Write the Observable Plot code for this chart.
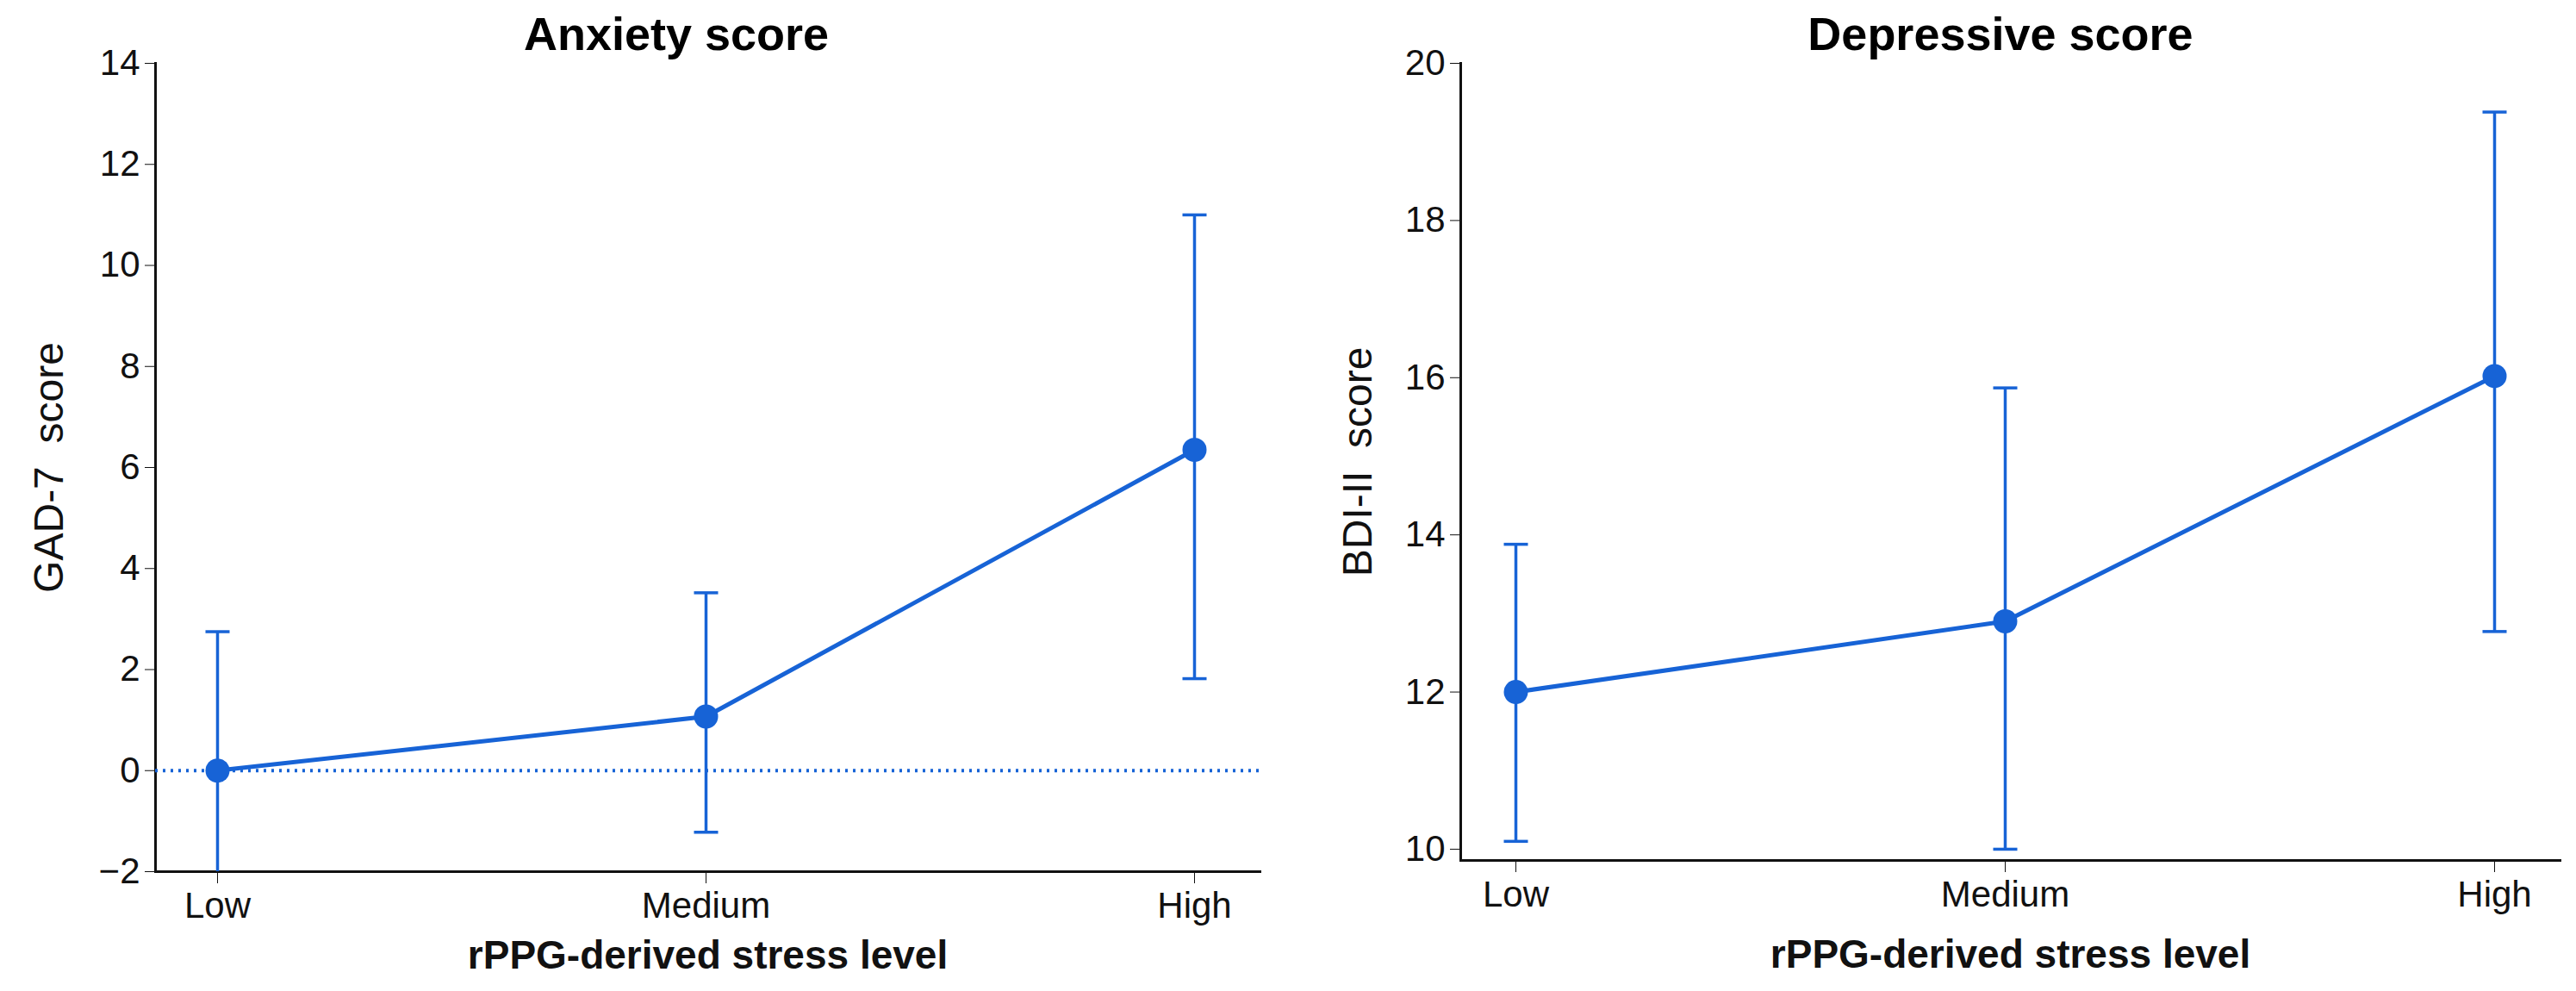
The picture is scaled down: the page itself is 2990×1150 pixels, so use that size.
<!DOCTYPE html>
<html><head><meta charset="utf-8">
<script src="https://cdn.jsdelivr.net/npm/d3@7"></script>
<script src="https://cdn.jsdelivr.net/npm/@observablehq/plot@0.6"></script>
<style>
body{margin:0;background:#fff;width:2990px;height:1150px;position:relative;overflow:hidden;font-family:"Liberation Sans Narrow","Liberation Sans",Arial,sans-serif}
.t{position:absolute;top:8px;font-weight:bold;font-size:54px;transform:translateX(-50%);white-space:nowrap;font-family:"Liberation Sans Narrow","Liberation Sans",Arial,sans-serif}
#a,#b{position:absolute;top:0}
#a{left:0}#b{left:1500px}
</style></head><body>
<div id="a"></div><div id="b"></div>
<div class="t" style="left:785px">Anxiety score</div>
<div class="t" style="left:2322px">Depressive score</div>
<script>
const levels = ["Low","Medium","High"];
const anxMean = [0, 1.07, 6.35];
const anxLo = [-2.3, -1.22, 1.82];
const anxHi = [2.75, 3.52, 11.0];
const depMean = [12.0, 12.9, 16.02];
const depLo = [10.1, 10.0, 12.77];
const depHi = [13.88, 15.87, 19.38];
const yTicksA = [-2,0,2,4,6,8,10,12,14];
const yTicksD = [10,12,14,16,18,20];

const blue = "#1763d6";
const capSym = {draw(ctx,size){const r=Math.sqrt(size/Math.PI); ctx.moveTo(-r,0); ctx.lineTo(r,0);}};

function panel(mean, lo, hi, opts){
  const data = levels.map((c,i)=>({c, m:mean[i], lo:lo[i], hi:hi[i]}));
  const marks = [
    Plot.axisY({ticks:opts.ticks, tickSize:12, tickPadding:6, fontSize:42, label:opts.ylabel, labelAnchor:"center", labelArrow:false, labelOffset:opts.labelOffset}),
    Plot.axisX({tickSize:14, tickPadding:10, fontSize:42, label:"rPPG-derived stress level", labelAnchor:"center", labelArrow:false, labelOffset:opts.xLabelOffset}),
    Plot.frame({anchor:"left", strokeWidth:3}),
    Plot.frame({anchor:"bottom", strokeWidth:3}),
  ];
  if (opts.zero) marks.push(Plot.ruleY([0], {stroke:blue, strokeWidth:4, strokeDasharray:"3,6"}));
  marks.push(
    Plot.ruleX(data, {x:"c", y1:"lo", y2:"hi", stroke:blue, strokeWidth:3.5, clip:true}),
    Plot.dot(data, {x:"c", y:"lo", symbol:capSym, r:14, stroke:blue, strokeWidth:3.5, clip:true}),
    Plot.dot(data, {x:"c", y:"hi", symbol:capSym, r:14, stroke:blue, strokeWidth:3.5, clip:true}),
    Plot.line(data, {x:"c", y:"m", stroke:blue, strokeWidth:5}),
    Plot.dot(data, {x:"c", y:"m", r:14, fill:blue})
  );
  return Plot.plot({
    width:opts.width, height:1150,
    marginLeft:opts.ml, marginRight:opts.mr, marginTop:opts.mt, marginBottom:opts.mb,
    style:{fontFamily:'"Liberation Sans Narrow","Liberation Sans",Arial,sans-serif', fontSize:"42px", color:"#111"},
    x:{type:"point", domain:levels, padding:0, insetLeft:opts.il, insetRight:opts.ir},
    y:{domain:opts.ydomain},
    marks
  });
}

const A = panel(anxMean, anxLo, anxHi, {width:1500, ml:180, mr:38, mt:73, mb:139, il:71, ir:76,
  ydomain:[-2,14], ticks:yTicksA, ylabel:"GAD-7  score", labelOffset:142, xLabelOffset:112, zero:true});
const B = panel(depMean, depLo, depHi, {width:1490, ml:195, mr:19, mt:73, mb:152, il:64, ir:76,
  ydomain:[9.857,20], ticks:yTicksD, ylabel:"BDI-II  score", labelOffset:138, xLabelOffset:124, zero:false});
document.getElementById("a").append(A);
document.getElementById("b").append(B);
for (const svg of [A,B]) {
  svg.querySelectorAll('[aria-label="y-axis label"] text').forEach(t=>{t.style.fontFamily='"Liberation Sans",Arial,sans-serif';t.style.fontSize="48px";});
  svg.querySelectorAll('[aria-label="x-axis label"] text').forEach(t=>{t.style.fontWeight="bold";t.style.fontSize="46px";});
}
</script></body></html>
